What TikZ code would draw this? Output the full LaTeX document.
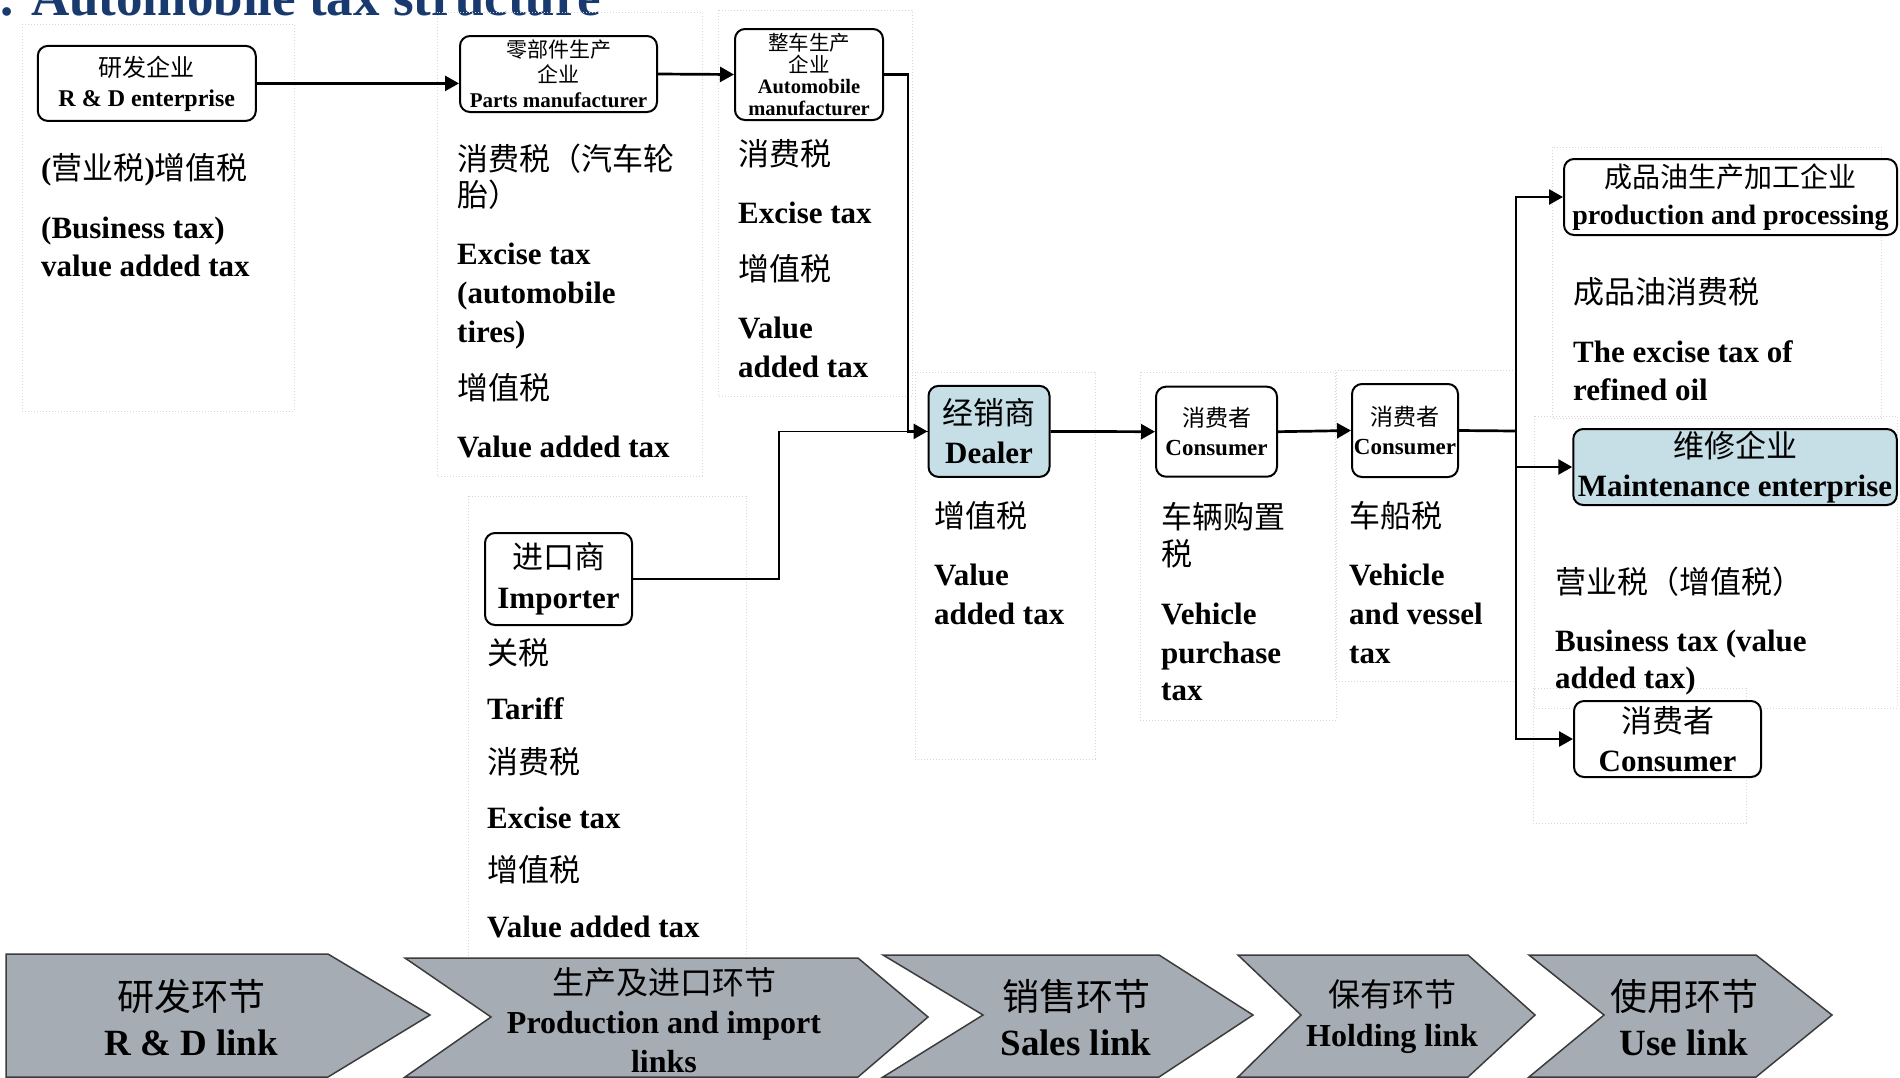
\documentclass[tikz,border=0pt]{standalone}
\usepackage{fontspec}
\setmainfont{Liberation Serif}
\newfontfamily\cjk{Noto Sans CJK SC}[BoldFont={Noto Sans CJK SC}]
\usetikzlibrary{arrows.meta}
\newcommand\zh[1]{{\cjk\mdseries #1}}
\newcommand\bodyf{\fontsize{31}{38}\selectfont\bfseries}
\definecolor{lightblue}{RGB}{198,222,230}
\definecolor{panelgray}{RGB}{215,215,215}
\definecolor{chevgray}{RGB}{166,172,179}
\definecolor{chevedge}{RGB}{60,60,60}
\definecolor{titleblue}{RGB}{24,58,110}
\begin{document}
\begin{tikzpicture}[x=1pt,y=-1pt,
 box/.style={draw, line width=2pt, rounded corners=10pt, inner sep=0pt, align=center, fill=white},
 bluebox/.style={box, fill=lightblue},
 panel/.style={draw=panelgray, line width=1pt, dotted},
 tx/.style={anchor=base west, inner sep=0pt, font=\bodyf},
 chev/.style={fill=chevgray, draw=chevedge, line width=1.5pt},
 chevtx/.style={align=center, inner sep=0pt},
 arr/.style={line width=2.7pt, -{Triangle[length=14pt,width=15pt]}},
 ln/.style={line width=2.7pt},
 thinln/.style={line width=1.8pt}]
\useasboundingbox (0,0) rectangle (1900,1077);
\clip (0,0) rectangle (1900,1077);
% title
\node[anchor=base west, inner sep=0pt, font=\fontsize{53}{60}\selectfont\bfseries, text=titleblue] (title) at (0,15) {. Automobile tax structure};
% panels
\draw[panel] (22,24) rectangle (294,411);
\draw[panel] (437,12) rectangle (702,476);
\draw[panel] (718,10) rectangle (912,396);
\draw[panel] (468,496) rectangle (746,960);
\draw[panel] (915,372) rectangle (1095,759);
\draw[panel] (1140,372) rectangle (1336,720);
\draw[panel] (1335,370) rectangle (1515,681);
\draw[panel] (1552,147) rectangle (1881,418);
\draw[panel] (1534,416) rectangle (1897,708);
\draw[panel] (1533,688) rectangle (1746,823);
% boxes
\node[box, minimum width=218pt, minimum height=75pt, font=\fontsize{24}{30}\selectfont\bfseries] (rd) at (146.8,83.4) {\zh{研发企业}\\R \& D enterprise};
\node[box, minimum width=197pt, minimum height=76pt, font=\fontsize{21}{25}\selectfont\bfseries] (parts) at (558.5,74) {\zh{零部件生产}\\\zh{企业}\\Parts manufacturer};
\node[box, minimum width=148pt, minimum height=91pt, font=\fontsize{20.5}{21.7}\selectfont\bfseries] (auto) at (809,74.5) {\zh{整车生产}\\\zh{企业}\\Automobile\\manufacturer};
\node[bluebox, minimum width=121pt, minimum height=91pt, font=\fontsize{31}{39}\selectfont\bfseries] (dealer) at (989,431.4) {\zh{经销商}\\Dealer};
\node[box, minimum width=121pt, minimum height=90pt, font=\fontsize{23}{29}\selectfont\bfseries] (cons1) at (1216.5,431.7) {\zh{消费者}\\Consumer};
\node[box, minimum width=106pt, minimum height=93pt, font=\fontsize{23}{29}\selectfont\bfseries] (cons2) at (1405,430.5) {\zh{消费者}\\Consumer};
\node[box, minimum width=147pt, minimum height=92pt, font=\fontsize{31}{40}\selectfont\bfseries] (imp) at (558.5,579) {\zh{进口商}\\Importer};
\node[box, minimum width=333pt, minimum height=76pt, font=\fontsize{28}{36.5}\selectfont\bfseries] (oil) at (1730.5,197) {\zh{成品油生产加工企业}\\production and processing};
\node[bluebox, minimum width=323.5pt, minimum height=76pt, font=\fontsize{31}{38.5}\selectfont\bfseries] (maint) at (1735,467) {\zh{维修企业}\\Maintenance enterprise};
\node[box, minimum width=187pt, minimum height=76pt, font=\fontsize{31}{39}\selectfont\bfseries] (cons3) at (1667.5,739) {\zh{消费者}\\Consumer};
% connectors
\draw[arr] (rd.east) -- (rd.east -| parts.west);
\draw[arr] (parts.east) -- (auto.west);
\coordinate (jn) at (779,431.4);
\draw[thinln] (imp.east) -| (jn) -- (dealer.west);
\draw[arr] (auto.east) -- ++(24,0) |- (dealer.west);
\draw[arr] (dealer.east) -- (cons1.west);
\draw[arr] (cons1.east) -- (cons2.west);
\coordinate (bus) at (1516,431);
\draw[ln] (cons2.east) -- (bus);
\draw[arr] (bus) |- (oil.west);
\draw[arr] (bus) |- (maint.west);
\draw[arr] (bus) |- (cons3.west);
% texts R&D
\node[tx] (a1) at (41,179) {(\zh{营业税})\zh{增值税}};
\node[tx] (a2) at (41,238) {(Business tax)};
\node[tx] (a3) at (41,276) {value added tax};
% parts
\node[tx] (b1) at (457,170) {\zh{消费税（汽车轮}};
\node[tx] (b2) at (457,206) {\zh{胎）}};
\node[tx] (b3) at (457,264) {Excise tax};
\node[tx] (b4) at (457,303) {(automobile};
\node[tx] (b5) at (457,342) {tires)};
\node[tx] (b6) at (457,399) {\zh{增值税}};
\node[tx] (b7) at (457,457) {Value added tax};
% auto
\node[tx] (c1) at (738,165) {\zh{消费税}};
\node[tx] (c2) at (738,223) {Excise tax};
\node[tx] (c3) at (738,280) {\zh{增值税}};
\node[tx] (c4) at (738,338) {Value};
\node[tx] (c5) at (738,377) {added tax};
% importer
\node[tx] (d1) at (487,664) {\zh{关税}};
\node[tx] (d2) at (487,719) {Tariff};
\node[tx] (d3) at (487,773) {\zh{消费税}};
\node[tx] (d4) at (487,828) {Excise tax};
\node[tx] (d5) at (487,881) {\zh{增值税}};
\node[tx] (d6) at (487,937) {Value added tax};
% dealer
\node[tx] (e1) at (934,527) {\zh{增值税}};
\node[tx] (e2) at (934,585) {Value};
\node[tx] (e3) at (934,624) {added tax};
% consumer 1
\node[tx] (f1) at (1161,528) {\zh{车辆购置}};
\node[tx] (f2) at (1161,565) {\zh{税}};
\node[tx] (f3) at (1161,624) {Vehicle};
\node[tx] (f4) at (1161,663) {purchase};
\node[tx] (f5) at (1161,700) {tax};
% consumer 2
\node[tx] (g1) at (1349,527) {\zh{车船税}};
\node[tx] (g2) at (1349,585) {Vehicle};
\node[tx] (g3) at (1349,624) {and vessel};
\node[tx] (g4) at (1349,663) {tax};
% oil
\node[tx] (h1) at (1573,303) {\zh{成品油消费税}};
\node[tx] (h2) at (1573,362) {The excise tax of};
\node[tx] (h3) at (1573,400) {refined oil};
% maintenance
\node[tx] (i1) at (1555,593) {\zh{营业税（增值税）}};
\node[tx] (i2) at (1555,651) {Business tax (value};
\node[tx] (i3) at (1555,688) {added tax)};
% chevrons
\draw[chev] (6,954) -- (328,954) -- (430,1015) -- (328,1077) -- (6,1077) -- cycle;
\draw[chev] (405,958) -- (858,958) -- (928,1017) -- (858,1077) -- (405,1077) -- (491,1017) -- cycle;
\draw[chev] (883,955) -- (1159,955) -- (1253,1015) -- (1159,1077) -- (883,1077) -- (983,1015) -- cycle;
\draw[chev] (1238,955) -- (1468,955) -- (1535,1015) -- (1468,1077) -- (1238,1077) -- (1301,1015) -- cycle;
\draw[chev] (1529,955) -- (1756,955) -- (1832,1015) -- (1756,1077) -- (1529,1077) -- (1604,1015) -- cycle;
\node[chevtx, font=\fontsize{37}{45}\selectfont\bfseries] (k1) at (191,1017.5) {\zh{研发环节}\\R \& D link};
\node[chevtx, font=\fontsize{32}{39}\selectfont\bfseries] (k2) at (664,1020) {\zh{生产及进口环节}\\Production and import\\links};
\node[chevtx, font=\fontsize{37}{45}\selectfont\bfseries] (k3) at (1076,1017.5) {\zh{销售环节}\\Sales link};
\node[chevtx, font=\fontsize{32}{40}\selectfont\bfseries] (k4) at (1392,1017) {\zh{保有环节}\\Holding link};
\node[chevtx, font=\fontsize{37}{45}\selectfont\bfseries] (k5) at (1684,1017.5) {\zh{使用环节}\\Use link};
\end{tikzpicture}
\end{document}
